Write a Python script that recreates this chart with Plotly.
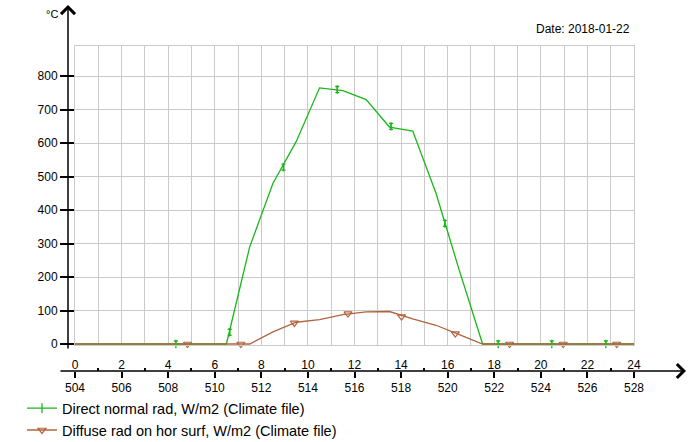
import plotly.graph_objects as go

# ---- data ----
hours = [0.0] + [h + 0.5 for h in range(24)] + [24.0]
direct_normal = [0,
                 0, 0, 0, 0, 0, 0,
                 0, 290, 480, 605, 765, 757, 730, 648, 636, 450, 220, 0,
                 0, 0, 0, 0, 0, 0,
                 0]
diffuse_hor = [0,
               0, 0, 0, 0, 0, 0, 0,
               0, 36, 65, 73, 88, 96, 97, 75, 56, 28, 0,
               0, 0, 0, 0, 0, 0,
               0]

direct_marker_x = [4.33, 6.64, 8.95, 11.26, 13.57, 15.88, 18.17, 20.47, 22.79]
direct_marker_y = [0, 35, 528, 760, 650, 360, 0, 0, 0]
diffuse_marker_x = [4.83, 7.12, 9.42, 11.72, 14.02, 16.33, 18.66, 20.96, 23.26]
diffuse_marker_y = [0, 0, 63, 91, 82, 31, 0, 0, 0]

y_ticks = [0, 100, 200, 300, 400, 500, 600, 700, 800]
top_tick_vals = [0, 2, 4, 6, 8, 10, 12, 14, 16, 18, 20, 22, 24]
top_tick_text = ["0", "2", "4", "6", "8", "10", "12", "14", "16", "18", "20", "22", "24"]
bottom_tick_text = ["504", "506", "508", "510", "512", "514", "516", "518",
                    "520", "522", "524", "526", "528"]
minor_tick_vals = [1, 3, 5, 7, 9, 11, 13, 15, 17, 19, 21, 23]

name_direct = "Direct normal rad, W/m2 (Climate file)"
name_diffuse = "Diffuse rad on hor surf, W/m2 (Climate file)"

GREEN = "#19B819"
BROWN = "#B0643F"
FONT = "Liberation Sans"

fig = go.Figure()

fig.add_trace(go.Scatter(x=hours, y=direct_normal, mode="lines",
                         line=dict(color=GREEN, width=1.3), showlegend=False,
                         hoverinfo="skip"))
fig.add_trace(go.Scatter(x=hours, y=diffuse_hor, mode="lines",
                         line=dict(color=BROWN, width=1.3), showlegend=False,
                         hoverinfo="skip"))
fig.add_trace(go.Scatter(x=direct_marker_x, y=direct_marker_y, mode="markers",
                         marker=dict(symbol="line-ns", size=6,
                                     line=dict(color=GREEN, width=1.3)),
                         error_y=dict(type="constant", value=9, width=2,
                                      thickness=1.3, color=GREEN),
                         cliponaxis=False, showlegend=False, hoverinfo="skip"))
fig.add_trace(go.Scatter(x=diffuse_marker_x, y=diffuse_marker_y, mode="markers",
                         marker=dict(symbol="triangle-down-open", size=7,
                                     color=BROWN, line=dict(color=BROWN, width=1.2)),
                         cliponaxis=False, showlegend=False, hoverinfo="skip"))
# legend entries
fig.add_trace(go.Scatter(x=[None], y=[None], mode="lines+markers", name=name_direct,
                         line=dict(color=GREEN, width=1.3),
                         marker=dict(symbol="line-ns", size=7,
                                     line=dict(color=GREEN, width=1.3))))
fig.add_trace(go.Scatter(x=[None], y=[None], mode="lines+markers", name=name_diffuse,
                         line=dict(color=BROWN, width=1.3),
                         marker=dict(symbol="triangle-down-open", size=7,
                                     color=BROWN, line=dict(color=BROWN, width=1.2))))
# placeholders so the extra time axes are drawn
for ax_id in ["x2", "x3", "x4"]:
    fig.add_trace(go.Scatter(x=[0, 24], y=[None, None], xaxis=ax_id, yaxis="y",
                             mode="lines", showlegend=False, hoverinfo="skip"))

GRID = "#cacaca"
LINE_POS = (400 - 371) / 354

fig.update_layout(
    width=688, height=442,
    margin=dict(l=75, r=54, t=46, b=42, autoexpand=False),
    paper_bgcolor="white", plot_bgcolor="white",
    font=dict(family=FONT, size=12, color="#000000"),
    xaxis=dict(range=[0, 24], dtick=1, showgrid=True, gridcolor=GRID, gridwidth=1,
               showticklabels=False, ticks="", zeroline=False,
               showline=True, linecolor=GRID, linewidth=1, mirror=True,
               domain=[0, 1]),
    yaxis=dict(range=[-3, 890], domain=[(400 - 345) / 354, 1],
               tickvals=y_ticks, showgrid=True, gridcolor=GRID, gridwidth=1,
               ticks="outside", ticklen=14, tickwidth=1.5, tickcolor="#000000",
               zeroline=False, showline=True, linecolor=GRID, linewidth=1,
               mirror=True, tickfont=dict(size=12)),
    xaxis2=dict(overlaying="x", anchor="free", position=LINE_POS, side="bottom",
                range=[0, 24], tickvals=top_tick_vals, ticktext=bottom_tick_text,
                ticks="outside", ticklen=6, tickwidth=1.5, tickcolor="#000000",
                showgrid=False, zeroline=False, showline=False,
                tickfont=dict(size=12)),
    xaxis3=dict(overlaying="x", anchor="free", position=LINE_POS, side="top",
                range=[0, 24], tickvals=top_tick_vals, ticktext=top_tick_text,
                ticks="", showgrid=False, zeroline=False, showline=False,
                tickfont=dict(size=12)),
    xaxis4=dict(overlaying="x", anchor="free", position=LINE_POS, side="top",
                range=[0, 24], tickvals=minor_tick_vals, showticklabels=False,
                ticks="outside", ticklen=3, tickwidth=1.5, tickcolor="#000000",
                showgrid=False, zeroline=False, showline=False),
    legend=dict(x=(22 - 75) / 559, y=0.022, xanchor="left", yanchor="top",
                font=dict(size=14.5, family=FONT), bgcolor="rgba(0,0,0,0)",
                tracegroupgap=0),
    showlegend=True,
)

# axis lines with arrows
fig.add_annotation(x=(68 - 75) / 559, y=(400 - 5) / 354, xref="paper", yref="paper",
                   text="", showarrow=True, ax=0, ay=345, axref="pixel", ayref="pixel",
                   arrowhead=4, arrowsize=1.8, arrowwidth=1.5, arrowcolor="#000000")
fig.add_annotation(x=(686 - 75) / 559, y=LINE_POS, xref="paper", yref="paper",
                   text="", showarrow=True, ax=-627, ay=0, axref="pixel", ayref="pixel",
                   arrowhead=4, arrowsize=1.8, arrowwidth=1.5, arrowcolor="#000000")

fig.add_annotation(x=(52 - 75) / 559, y=(400 - 14) / 354, xref="paper", yref="paper",
                   text="°C", showarrow=False, font=dict(size=11, family=FONT),
                   xanchor="center", yanchor="middle")
fig.add_annotation(x=(632 - 75) / 559, y=(400 - 29) / 354, xref="paper", yref="paper",
                   text="Date: 2018-01-22", showarrow=False,
                   font=dict(size=12, family=FONT), xanchor="right", yanchor="middle")

fig.write_html("out.html",
               config={"displayModeBar": False},
               post_script="document.body.style.margin='0';")
